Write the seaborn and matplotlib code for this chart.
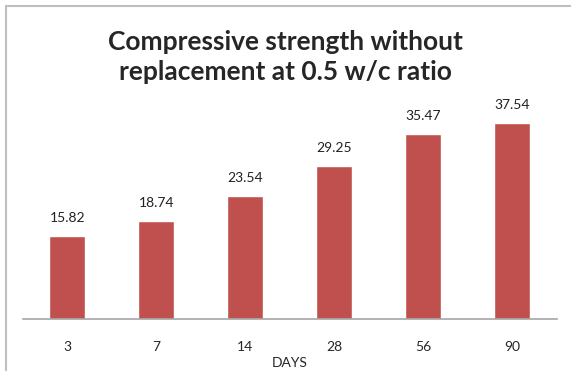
import matplotlib
matplotlib.use("Agg")
import matplotlib.pyplot as plt
import seaborn as sns
import pandas as pd
from matplotlib.patches import Rectangle

days = ["3", "7", "14", "28", "56", "90"]
strength = [15.82, 18.74, 23.54, 29.25, 35.47, 37.54]

df = pd.DataFrame({"Days": days, "Strength": strength})

sns.set_style("white")
plt.rcParams["font.family"] = ["Lato", "DejaVu Sans"]

fig = plt.figure(figsize=(5.71, 3.71), dpi=100)
ax = fig.add_axes([0.040, 0.140, 0.935, 0.563])

sns.barplot(data=df, x="Days", y="Strength", color="#C0504D", width=0.405,
            saturation=1, ax=ax)

for i, v in enumerate(strength):
    ax.text(i, v + 2.3, f"{v:.2f}", ha="center", va="bottom", fontsize=10,
            color="#222222", clip_on=False)

ax.set_ylim(0, 40)
ax.set_xlim(-0.5, 5.5)
ax.set_yticks([])
ax.set_ylabel("")
ax.set_xlabel("DAYS", fontsize=10, labelpad=3)
ax.tick_params(axis="x", length=0, pad=16, labelsize=10)
for s in ["top", "right", "left"]:
    ax.spines[s].set_visible(False)
ax.spines["bottom"].set_color("#A6A6A6")
ax.spines["bottom"].set_linewidth(1.2)

fig.text(0.5, 0.846, "Compressive strength without\nreplacement at 0.5 w/c ratio",
         ha="center", va="center", fontsize=19, fontweight="bold",
         linespacing=1.3)

fig.patches.append(Rectangle((6 / 571, -0.1), 1.2, 1 - 6 / 371 + 0.1,
                             transform=fig.transFigure, fill=False,
                             edgecolor="#BFBFBF", linewidth=1.5))

fig.savefig("out.png", dpi=100)
